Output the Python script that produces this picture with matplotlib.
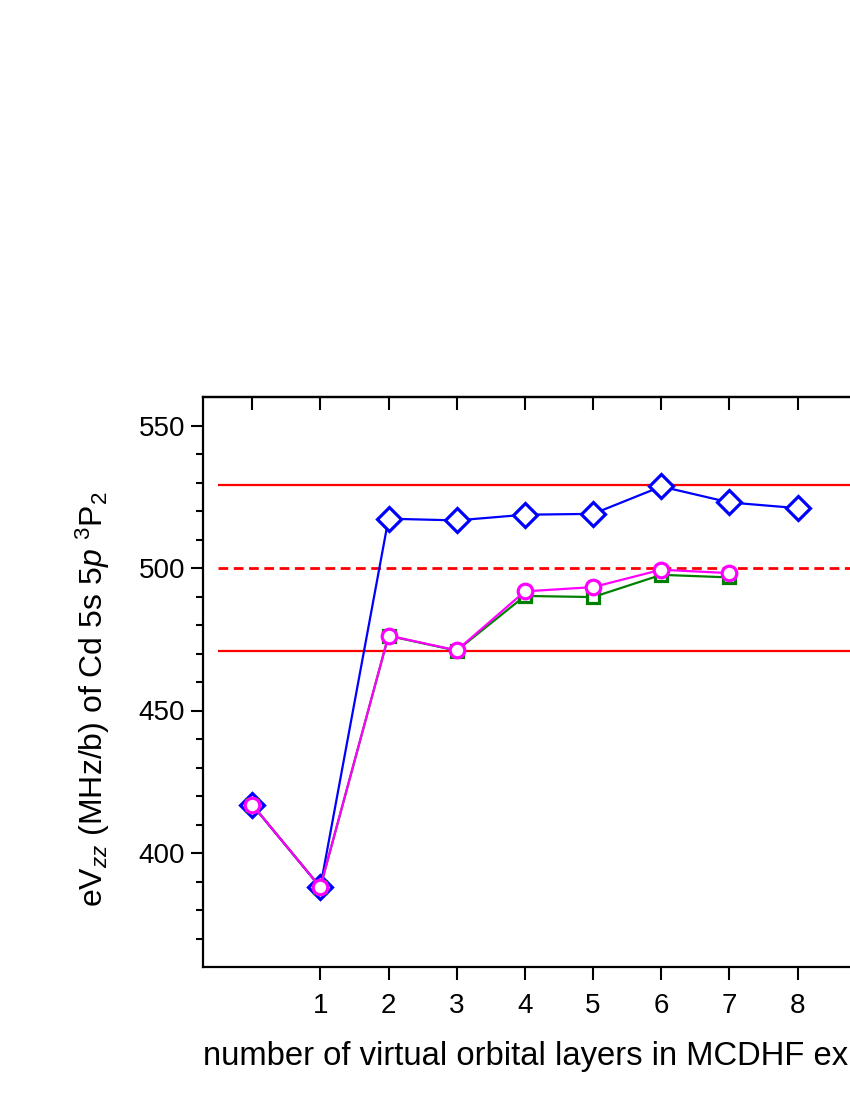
''' Cd 5s5p 3P2 eVzz vs number of virtual orbital layers '''

import numpy as np
import matplotlib
matplotlib.use('Agg')
import matplotlib.pyplot as plt

plt.rcParams['font.family'] = ['Liberation Sans', 'DejaVu Sans']
plt.rcParams['mathtext.fontset'] = 'custom'
plt.rcParams['mathtext.rm'] = 'Liberation Sans'
plt.rcParams['mathtext.it'] = 'Liberation Sans:italic'

# データ
layers_blue = [0, 1, 2, 3, 4, 5, 6, 7, 8]
evzz_blue = [417.0, 388.0, 517.3, 516.7, 518.7, 519.0, 528.6, 523.0, 521.0]
layers_green = [0, 1, 2, 3, 4, 5, 6, 7]
evzz_green = [417.0, 388.0, 476.2, 471.0, 490.2, 489.8, 497.6, 496.7]
layers_magenta = [0, 1, 2, 3, 4, 5, 6, 7]
evzz_magenta = [417.0, 388.0, 476.3, 471.1, 491.8, 493.3, 499.4, 498.2]
ref_value = 500.0
ref_upper = 529.0
ref_lower = 471.0
xticks_bottom = [1, 2, 3, 4, 5, 6, 7, 8]
xticks_top = [0, 1, 2, 3, 4, 5, 6, 7, 8, 9]

fig = plt.figure(figsize=(8.5, 11), dpi=100)
# 軸は右にはみ出す（元図が右で切れている）
ax = fig.add_axes([203/850, 1 - 967/1100, (915 - 203)/850, (967 - 397)/1100])

ax.hlines([ref_upper, ref_lower], -0.5, 12, colors='red', linewidth=1.6, zorder=1)
ax.hlines(ref_value, -0.5, 12, colors='red', linewidth=2.0, linestyles=(0, (3.5, 2.0)), zorder=1)

ax.plot(layers_blue, evzz_blue, color='blue', linewidth=1.6, marker='D', markersize=12,
        markerfacecolor='white', markeredgecolor='blue', markeredgewidth=2.3, zorder=3)
ax.plot(layers_green, evzz_green, color='green', linewidth=1.6, marker='s', markersize=9,
        markerfacecolor='white', markeredgecolor='green', markeredgewidth=2.3, zorder=4)
ax.plot(layers_magenta, evzz_magenta, color='magenta', linewidth=1.6, marker='o', markersize=10.5,
        markerfacecolor='white', markeredgecolor='magenta', markeredgewidth=2.3, zorder=5)

ax.set_xlim(-0.72, 9.72)
ax.set_ylim(360, 560)
ax.set_yticks([400, 450, 500, 550])
ax.set_yticks(np.arange(370, 560, 10), minor=True)
ax.set_xticks(xticks_bottom)
ax.set_xticklabels([str(v) for v in xticks_bottom])

ax.tick_params(axis='both', which='major', direction='out', length=9, width=1.5, labelsize=20)
ax.tick_params(axis='y', which='minor', direction='out', length=5, width=1.5)
ax.tick_params(axis='x', pad=10)
ax.tick_params(axis='y', pad=4)
for sp in ax.spines.values():
    sp.set_linewidth(1.6)

# 上側の目盛（内向き）
secax = ax.secondary_xaxis('top')
secax.set_xticks(xticks_top)
secax.tick_params(direction='in', length=9, width=1.5, labeltop=False)
secax.spines['top'].set_linewidth(1.6)

ax.set_xlabel('number of virtual orbital layers in MCDHF expansion', fontsize=23.6)
ax.xaxis.set_label_coords(0.0, -0.13)
ax.xaxis.label.set_horizontalalignment('left')
ax.set_ylabel(r'eV$_{\mathit{zz}}$ (MHz/b) of Cd 5s 5$\mathit{p}$ $^{3}$P$_{2}$', fontsize=23)
ax.yaxis.set_label_coords(-0.128, 0.47)

plt.savefig('out.png', dpi=100)
